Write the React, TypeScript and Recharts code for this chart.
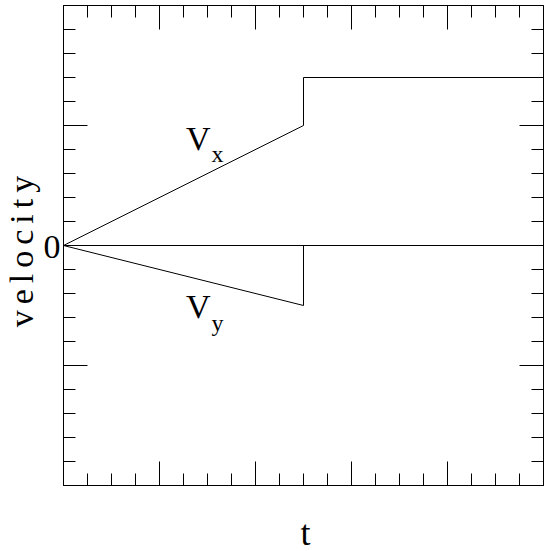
import { LineChart, Line, XAxis, YAxis, ReferenceLine, ReferenceDot } from 'recharts'

// time samples (step at t = 10) and the two velocity components
const t = [0, 10, 10, 20]
const vx = [0, 5, 7, 7]
const vy = [0, -2.5, 0, 0]

const xTicks = [0, 1, 2, 3, 4, 5, 6, 7, 8, 9, 10, 11, 12, 13, 14, 15, 16, 17, 18, 19, 20]
const xMajor = [4, 8, 12, 16]
const yTicks = [-10, -9, -8, -7, -6, -5, -4, -3, -2, -1, 0, 1, 2, 3, 4, 5, 6, 7, 8, 9, 10]
const yMajor = [-5, 5]
const yLabelled = [0]

const data = t.map((v, i) => ({ t: v, vx: vx[i], vy: vy[i] }))

const FONT = '"Liberation Serif", "DejaVu Serif", serif'
const MINOR = 12
const MAJOR = 24

const mark = (side: 'bottom' | 'top' | 'left' | 'right', majors: number[]) => (p: any) => {
  const { x, y, payload } = p
  const len = majors.includes(payload.value) ? MAJOR : MINOR
  let x2 = x, y2 = y
  if (side === 'bottom') y2 = y - len
  if (side === 'top') y2 = y + len
  if (side === 'left') x2 = x + len
  if (side === 'right') x2 = x - len
  return (
    <g>
      <line x1={x} y1={y} x2={x2} y2={y2} stroke="#000" strokeWidth={1} />
      {side === 'left' && yLabelled.includes(payload.value) && (
        <text x={x - 3} y={y + 12} textAnchor="end" fontSize={34} fontFamily={FONT} fill="#000">{payload.value}</text>
      )}
    </g>
  )
}

const sub = (main: string, s: string, dy: number) => (p: any) => {
  const vb = p.viewBox
  return (
    <text x={vb.x} y={vb.y} fontFamily={FONT} fill="#000" fontSize={34}>
      <tspan>{main}</tspan>
      <tspan dx={1} dy={dy} fontSize={24}>{s}</tspan>
    </text>
  )
}

export default function App() {
  return (
    <div style={{ position: 'absolute', left: 0, top: 0, background: '#fff' }}>
      <LineChart width={549} height={551} data={data} margin={{ top: 4.5, right: 4.5, bottom: 64.5, left: 62.5 }}>
        <XAxis dataKey="t" type="number" domain={[0, 20]} allowDataOverflow ticks={xTicks} interval={0} height={1}
          tickSize={0} tickMargin={0} tick={mark('bottom', xMajor)} axisLine={{ stroke: '#000' }}
          label={{ content: (p: any) => (
            <text x={p.viewBox.x + p.viewBox.width / 2 + 2} y={p.viewBox.y + 59} textAnchor="middle" fontSize={36} fontFamily={FONT} fill="#000">t</text>
          ) }} />
        <XAxis xAxisId="top" dataKey="t" orientation="top" type="number" domain={[0, 20]} allowDataOverflow ticks={xTicks} interval={0} height={1}
          tickSize={0} tickMargin={0} tick={mark('top', xMajor)} axisLine={{ stroke: '#000' }} />
        <YAxis type="number" domain={[-10, 10]} allowDataOverflow ticks={yTicks} interval={0} width={1}
          tickSize={0} tickMargin={0} tick={mark('left', yMajor)} axisLine={{ stroke: '#000' }}
          label={{ content: (p: any) => {
            const cy = p.viewBox.y + p.viewBox.height / 2 + 3
            return (
              <text x={33} y={cy} transform={`rotate(-90 33 ${cy})`} textAnchor="middle" fontSize={34} letterSpacing={6} fontFamily={FONT} fill="#000">velocity</text>
            )
          } }} />
        <YAxis yAxisId="right" orientation="right" type="number" domain={[-10, 10]} allowDataOverflow ticks={yTicks} interval={0} width={1}
          tickSize={0} tickMargin={0} tick={mark('right', yMajor)} axisLine={{ stroke: '#000' }} />
        <ReferenceLine y={0} stroke="#000" strokeWidth={1} />
        <Line type="linear" dataKey="vx" stroke="#000" strokeWidth={1} dot={false} isAnimationActive={false} />
        <Line type="linear" dataKey="vy" stroke="#000" strokeWidth={1} dot={false} isAnimationActive={false} />
        <ReferenceDot x={5.1} y={4} r={0} stroke="none" label={{ content: sub('V', 'x', 12) }} />
        <ReferenceDot x={5.1} y={-3} r={0} stroke="none" label={{ content: sub('V', 'y', 13) }} />
      </LineChart>
    </div>
  )
}
